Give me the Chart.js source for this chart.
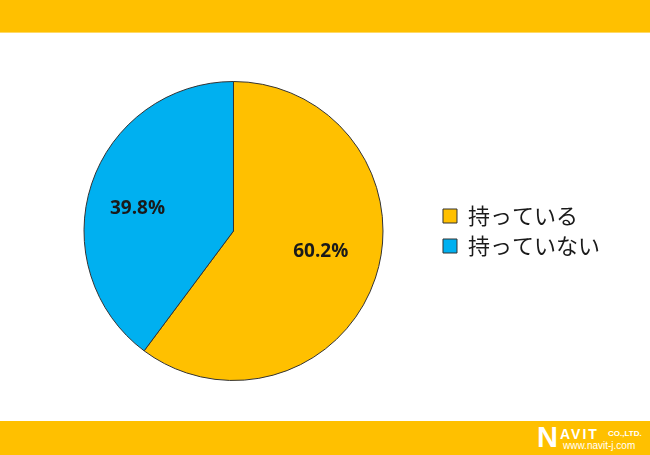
<!DOCTYPE html>
<html>
<head>
<meta charset="utf-8">
<script src="https://cdn.jsdelivr.net/npm/chart.js@4/dist/chart.umd.min.js"></script>
<style>
  body { margin: 0; width: 650px; height: 455px; background: #fff; position: relative; overflow: hidden; }
  #topbar { position: absolute; left: 0; top: 0; width: 650px; height: 32px; background: #FFC000; border-bottom: 1px solid #FFD966; }
  #bottombar { position: absolute; left: 0; top: 421px; width: 650px; height: 34px; background: #FFC000; }
  #wrap { position: absolute; left: 0; top: 32px; width: 650px; height: 389px; }
  .logo { position: absolute; color: #fff; font-family: "Liberation Sans", Arial, sans-serif; font-weight: bold; white-space: nowrap; }
</style>
</head>
<body>
<div id="topbar"></div>
<div id="wrap"><canvas id="myChart"></canvas></div>
<div id="bottombar">
  <div class="logo" style="left:537px; top:0px; font-size:29px;">N</div>
  <div class="logo" style="left:560px; top:5px; font-size:14px; letter-spacing:2px;">AVIT</div>
  <div class="logo" style="left:608px; top:8px; font-size:8px;">CO.,LTD.</div>
  <div class="logo" style="left:563px; top:19px; font-size:10px; font-weight:normal;">www.navit-j.com</div>
</div>
<script>
var labels = ['持っている', '持っていない'];
var values = [60.2, 39.8];
var colors = ['#FFC000', '#00B0F0'];

// パーセント表示（扇形の中）
var pctLabels = {
  id: 'pctLabels',
  afterDatasetsDraw: function(chart) {
    var ctx = chart.ctx;
    var meta = chart.getDatasetMeta(0);
    var fac = [0.6, 0.66];
    ctx.save();
    ctx.font = 'bold 19px "Open Sans", sans-serif';
    ctx.fillStyle = '#1a1a1a';
    ctx.textAlign = 'center';
    ctx.textBaseline = 'middle';
    meta.data.forEach(function(arc, i) {
      var mid = (arc.startAngle + arc.endAngle) / 2 - 5 * Math.PI / 180;
      var r = arc.outerRadius * fac[i];
      var x = arc.x + Math.cos(mid) * r;
      var y = arc.y + Math.sin(mid) * r;
      ctx.fillText(values[i].toFixed(1) + '%', x, y);
    });
    ctx.restore();
  }
};

new Chart(document.getElementById('myChart'), {
  type: 'pie',
  data: {
    labels: labels,
    datasets: [{
      data: values,
      backgroundColor: colors,
      borderColor: '#333333',
      borderWidth: 1
    }]
  },
  options: {
    responsive: true,
    maintainAspectRatio: false,
    animation: false,
    layout: { padding: { left: 32, right: 40, top: 49, bottom: 40 } },
    plugins: {
      tooltip: { enabled: false },
      legend: {
        display: true,
        position: 'right',
        labels: {
          boxWidth: 14,
          boxHeight: 14,
          padding: 8,
          color: '#1a1a1a',
          font: { size: 22, family: '"Noto Sans CJK JP", sans-serif' }
        }
      }
    }
  },
  plugins: [pctLabels]
});
</script>
</body>
</html>
